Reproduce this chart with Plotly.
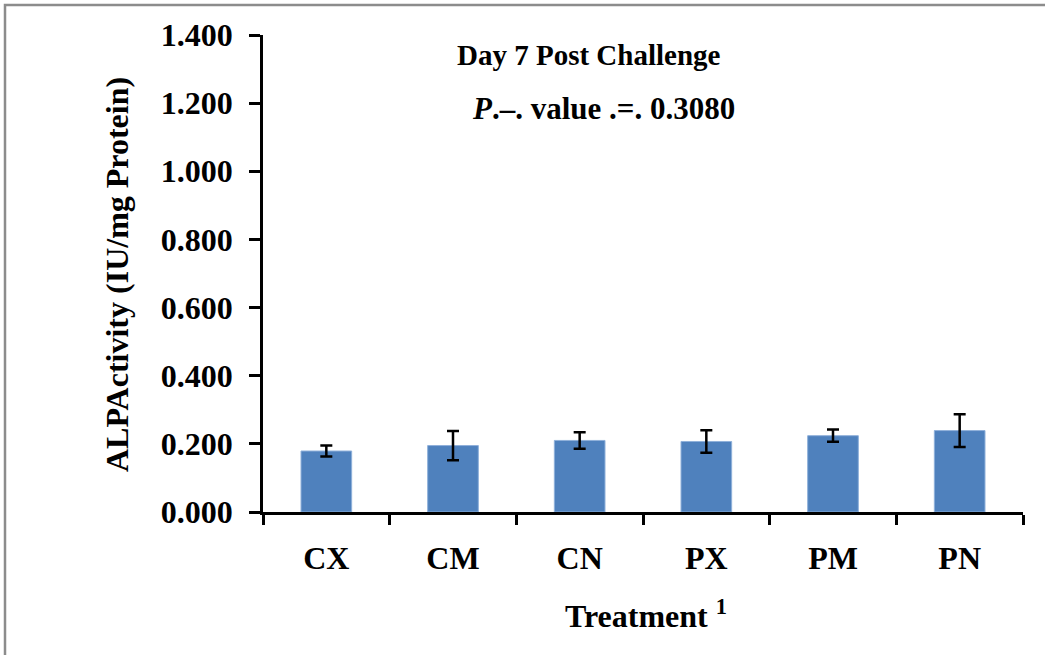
import plotly.graph_objects as go

categories = ["CX", "CM", "CN", "PX", "PM", "PN"]
means = [0.179, 0.195, 0.210, 0.207, 0.224, 0.239]
errors = [0.016, 0.043, 0.024, 0.033, 0.018, 0.048]
y_ticks = [0.0, 0.2, 0.4, 0.6, 0.8, 1.0, 1.2, 1.4]

FONT = "Liberation Serif, Times New Roman, serif"
W, H = 1045, 655
ML, MR, MT, MB = 263, 22, 35, 143
PW, PH = W - ML - MR, H - MT - MB

def px_x(x):
    return (x - ML) / PW

def px_y(y):
    return (H - MB - y) / PH

fig = go.Figure()
fig.add_trace(go.Bar(
    x=categories, y=means,
    marker=dict(color="#4F81BD", line=dict(color="#8FB0DA", width=1)),
    error_y=dict(type="data", array=errors, visible=True,
                 color="black", thickness=2.5, width=6),
    showlegend=False,
))

fig.update_layout(
    width=W, height=H,
    margin=dict(l=ML, r=MR, t=MT, b=MB, pad=0),
    paper_bgcolor="white", plot_bgcolor="white",
    font=dict(family=FONT, color="black", size=31, weight="bold"),
    bargap=0.6,
    xaxis=dict(
        type="category", showline=True, linecolor="black", linewidth=2.5,
        ticks="outside", tickson="boundaries", ticklen=10, tickwidth=2.5,
        tickcolor="black", showgrid=False, zeroline=False,
        ticklabelstandoff=16,
        tickfont=dict(family=FONT, size=32, weight="bold"),
    ),
    yaxis=dict(
        range=[0, 1.4], tickvals=y_ticks, tickformat=".3f",
        showline=True, linecolor="black", linewidth=2.5,
        ticks="outside", ticklen=11, tickwidth=2.5, tickcolor="black",
        showgrid=False, zeroline=False, ticklabelstandoff=10,
        tickfont=dict(family=FONT, size=32, weight="bold"),
    ),
    shapes=[dict(
        type="rect", xref="paper", yref="paper", layer="below",
        x0=px_x(5), x1=px_x(1060), y0=px_y(670), y1=px_y(5),
        line=dict(color="#8C8C8C", width=2.5), fillcolor="rgba(0,0,0,0)",
    )],
    annotations=[
        dict(text="ALPActivity (IU/mg Protein)", textangle=-90,
             xref="paper", yref="paper", x=px_x(117), y=px_y(275),
             xanchor="center", yanchor="middle", showarrow=False,
             font=dict(family=FONT, size=32, weight="bold")),
        dict(text="Treatment <sup>1</sup>",
             xref="paper", yref="paper", x=px_x(646), y=px_y(614),
             xanchor="center", yanchor="middle", showarrow=False,
             font=dict(family=FONT, size=32, weight="bold")),
        dict(text="Day 7 Post Challenge",
             xref="paper", yref="paper", x=px_x(589), y=px_y(55),
             xanchor="center", yanchor="middle", showarrow=False,
             font=dict(family=FONT, size=29, weight="bold")),
        dict(text="<i>P</i>.–. value .=. 0.3080",
             xref="paper", yref="paper", x=px_x(603), y=px_y(108),
             xanchor="center", yanchor="middle", showarrow=False,
             font=dict(family=FONT, size=31, weight="bold")),
    ],
)

fig.write_html("out.html")
